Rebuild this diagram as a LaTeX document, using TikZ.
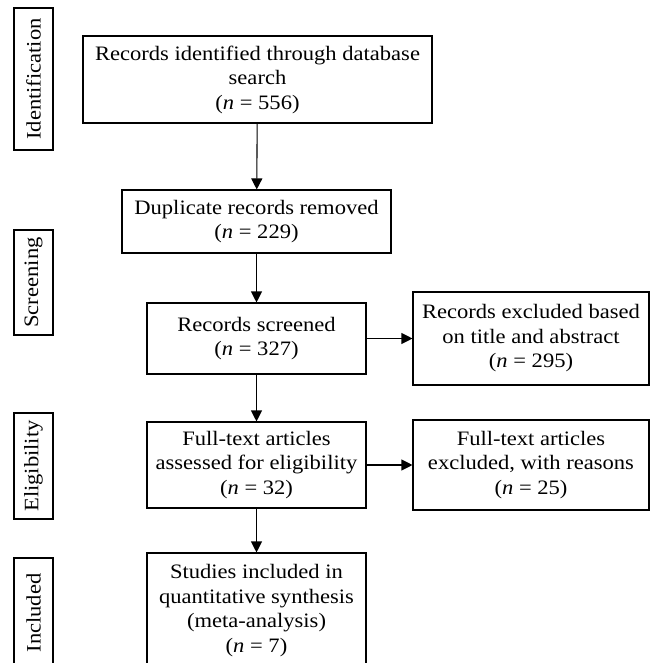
\documentclass[tikz,border=0pt]{standalone}
\usepackage{fontspec}
\setmainfont[FakeStretch=1.1]{Liberation Serif}
\usetikzlibrary{arrows.meta}

\begin{document}
\begin{tikzpicture}[x=1pt,y=-1pt,
  box/.style={draw, line width=1.1pt, align=center, inner sep=0pt,
    font=\fontsize{20.5}{24.5}\selectfont},
  phase/.style={draw, line width=1.1pt, rotate=90, inner sep=0pt,
    minimum height=39pt, font=\fontsize{20.5}{24.5}\selectfont},
  flow/.style={line width=1.1pt, -{Triangle[length=11pt,width=11pt]}}]
  % page 654 x 663, origin top left, y grows downwards
  \useasboundingbox (0,0) rectangle (654,663);

  % phase labels on the left
  \node[phase, minimum width=142pt] (ident)  at (33.5,79)    {Identification};
  \node[phase, minimum width=105pt] (screen) at (33.5,282.5) {Screening};
  \node[phase, minimum width=106pt] (elig)   at (33.5,466)   {Eligibility};
  \node[phase, minimum width=110pt] (incl)   at (33.5,613)   {Included};

  % main column
  \node[box, minimum width=349pt, minimum height=87pt] (found) at (257.5,79.5)
    {Records identified through database\\search\\(\textit{n} = 556)};
  \node[box, minimum width=269pt, minimum height=63pt] (dupl) at (256.5,221.5)
    {Duplicate records removed\\(\textit{n} = 229)};
  \node[box, minimum width=219pt, minimum height=71pt] (screened) at (256.5,338.5)
    {Records screened\\(\textit{n} = 327)};
  \node[box, minimum width=219pt, minimum height=86pt] (assessed) at (256.5,465)
    {Full-text articles\\assessed for eligibility\\(\textit{n} = 32)};
  \node[box, minimum width=219pt, minimum height=115pt] (included) at (256.5,610.5)
    {Studies included in\\quantitative synthesis\\(meta-analysis)\\(\textit{n} = 7)};

  % exclusions on the right
  \node[box, minimum width=236pt, minimum height=93pt] (exclA) at (531,338.5)
    {Records excluded based\\on title and abstract\\(\textit{n} = 295)};
  \node[box, minimum width=236pt, minimum height=90pt] (exclB) at (531,465)
    {Full-text articles\\excluded, with reasons\\(\textit{n} = 25)};

  % arrows
  \draw[flow] (found) -- (dupl);
  \draw[flow] (dupl) -- (screened);
  \draw[flow] (screened) -- (assessed);
  \draw[flow] (assessed) -- (included);
  \draw[flow] (screened) -- (exclA);
  \draw[flow] (assessed) -- (exclB);

\end{tikzpicture}
\end{document}
